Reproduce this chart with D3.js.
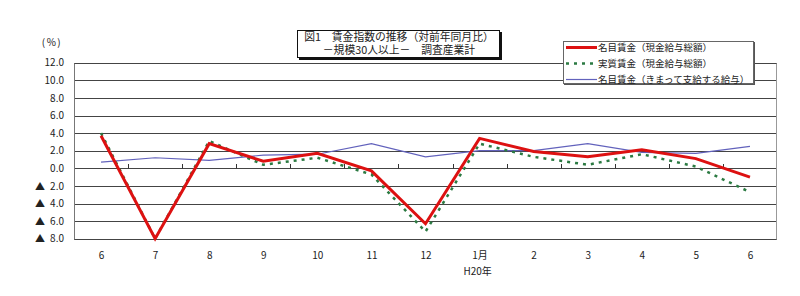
<!DOCTYPE html>
<html>
<head>
<meta charset="utf-8">
<script src="https://cdn.jsdelivr.net/npm/d3@7"></script>
<style>
  body { margin: 0; background: #fff; }
  text { font-family: "Noto Sans CJK JP", "Noto Sans", sans-serif; fill: #222; }
</style>
</head>
<body>
<div id="chart"></div>
<script>
// Chart data
var months = ["6", "7", "8", "9", "10", "11", "12", "1月", "2", "3", "4", "5", "6"];
var nominalTotal = [3.7, -8.0, 2.8, 0.8, 1.7, -0.3, -6.3, 3.4, 1.9, 1.3, 2.1, 1.1, -1.0];
var realTotal = [4.0, -8.0, 3.1, 0.4, 1.2, -0.7, -7.2, 2.8, 1.3, 0.4, 1.6, 0.2, -2.7];
var nominalRegular = [0.7, 1.2, 0.9, 1.5, 1.6, 2.8, 1.3, 2.0, 2.0, 2.8, 1.8, 1.7, 2.5];
var yTicks = [12, 10, 8, 6, 4, 2, 0, -2, -4, -6, -8];
var legendLabels = ["名目賃金（現金給与総額）", "実質賃金（現金給与総額）", "名目賃金（きまって支給する給与）"];
var titleLines = ["図1　賃金指数の推移（対前年同月比）", "－規模30人以上－　調査産業計"];

// Create the svg
var svg = d3.select("#chart")
  .append("svg")
  .attr("width", 800)
  .attr("height", 296);

// Plot area
var plotLeft = 74, plotRight = 777, plotTop = 62.7, plotBottom = 238.7;

var x = d3.scalePoint()
  .domain(d3.range(months.length))
  .range([plotLeft, plotRight])
  .padding(0.5);

var y = d3.scaleLinear()
  .domain([-8, 12])
  .range([plotBottom, plotTop]);

// Grid lines
svg.append("g")
  .selectAll("line")
  .data(yTicks)
  .join("line")
  .attr("x1", plotLeft)
  .attr("x2", plotRight)
  .attr("y1", d => Math.round(y(d)) + 0.5)
  .attr("y2", d => Math.round(y(d)) + 0.5)
  .attr("stroke", "#444")
  .attr("stroke-width", 1);

// Frame sides
svg.append("line")
  .attr("x1", plotLeft + 0.5).attr("x2", plotLeft + 0.5)
  .attr("y1", Math.round(plotTop) + 0.5).attr("y2", Math.round(plotBottom) + 0.5)
  .attr("stroke", "#777");
svg.append("line")
  .attr("x1", plotRight - 0.5).attr("x2", plotRight - 0.5)
  .attr("y1", Math.round(plotTop) + 0.5).attr("y2", Math.round(plotBottom) + 0.5)
  .attr("stroke", "#999");

// Y axis labels (negative values shown with a triangle)
var yAxis = d3.axisLeft(y)
  .tickValues(yTicks)
  .tickSize(0)
  .tickPadding(10)
  .tickFormat(d => d < 0 ? "▲\u2002" + Math.abs(d).toFixed(1) : d.toFixed(1));

svg.append("g")
  .attr("transform", "translate(" + plotLeft + ",0)")
  .call(yAxis)
  .call(g => g.select(".domain").remove())
  .selectAll("text")
  .style("font-family", "'Noto Sans CJK JP', sans-serif")
  .style("font-size", "10px")
  .attr("fill", "#333");

svg.append("text")
  .attr("x", 52)
  .attr("y", 46)
  .attr("text-anchor", "middle")
  .style("font-size", "10px")
  .style("letter-spacing", "1.5px")
  .text("(%)");

// Tick marks on the zero line
var step = x.step();
svg.append("g")
  .selectAll("line")
  .data(d3.range(1, months.length))
  .join("line")
  .attr("x1", d => Math.round(x(d) - step / 2) + 0.5)
  .attr("x2", d => Math.round(x(d) - step / 2) + 0.5)
  .attr("y1", Math.round(y(0)) + 0.5)
  .attr("y2", Math.round(y(0)) - 4)
  .attr("stroke", "#333");

// X axis labels
var xAxis = d3.axisBottom(x)
  .tickSize(0)
  .tickPadding(0)
  .tickFormat(i => months[i]);

svg.append("g")
  .attr("transform", "translate(0," + 252 + ")")
  .call(xAxis)
  .call(g => g.select(".domain").remove())
  .selectAll("text")
  .style("font-family", "'Noto Sans CJK JP', sans-serif")
  .style("font-size", "10px")
  .attr("fill", "#333");

svg.append("text")
  .attr("x", x(7) - 2)
  .attr("y", 275)
  .attr("text-anchor", "middle")
  .style("font-size", "10px")
  .text("H20年");

// Lines
var line = d3.line()
  .x((d, i) => x(i))
  .y(d => y(d));

svg.append("path")
  .datum(nominalRegular)
  .attr("d", line)
  .attr("fill", "none")
  .attr("stroke", "#6262bc")
  .attr("stroke-width", 1.2);

svg.append("path")
  .datum(realTotal)
  .attr("d", line)
  .attr("fill", "none")
  .attr("stroke", "#2b7a42")
  .attr("stroke-width", 2.5)
  .attr("stroke-dasharray", "3,5");

svg.append("path")
  .datum(nominalTotal)
  .attr("d", line)
  .attr("fill", "none")
  .attr("stroke", "#dd1111")
  .attr("stroke-width", 3)
  .attr("stroke-linejoin", "miter");

// Title box
var title = svg.append("g");
title.append("rect")
  .attr("x", 299).attr("y", 32)
  .attr("width", 203).attr("height", 28)
  .attr("fill", "#111");
title.append("rect")
  .attr("x", 297.5).attr("y", 30.5)
  .attr("width", 202).attr("height", 27)
  .attr("fill", "#fff")
  .attr("stroke", "#111");
title.selectAll("text.t")
  .data(titleLines)
  .join("text")
  .attr("class", "t")
  .attr("x", 399)
  .attr("y", (d, i) => 40.5 + i * 13)
  .attr("text-anchor", "middle")
  .style("font-size", "10.8px")
  .text(d => d);

// Legend box
var legend = svg.append("g");
legend.append("rect")
  .attr("x", 564).attr("y", 42)
  .attr("width", 191).attr("height", 43)
  .attr("fill", "#555");
legend.append("rect")
  .attr("x", 563.5).attr("y", 41.5)
  .attr("width", 190).attr("height", 42)
  .attr("fill", "#fff")
  .attr("stroke", "#666");

var legendStyles = [
  { color: "#dd1111", width: 3, dash: null },
  { color: "#2b7a42", width: 2.5, dash: "3,5" },
  { color: "#6262bc", width: 1.2, dash: null }
];

legendLabels.forEach(function(label, i) {
  var ly = 47.5 + i * 16;
  legend.append("line")
    .attr("x1", 566).attr("x2", 597)
    .attr("y1", ly).attr("y2", ly)
    .attr("stroke", legendStyles[i].color)
    .attr("stroke-width", legendStyles[i].width)
    .attr("stroke-dasharray", legendStyles[i].dash);
  legend.append("text")
    .attr("x", 598)
    .attr("y", ly + 3.5)
    .style("font-size", "9.5px")
    .text(label);
});
</script>
</body>
</html>
